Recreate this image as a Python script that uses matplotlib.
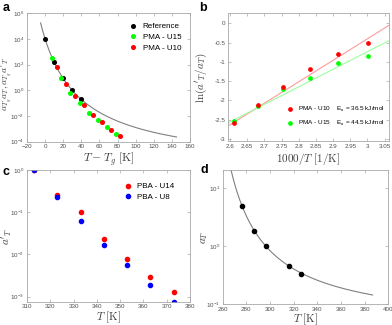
import numpy as np
import matplotlib
matplotlib.use("Agg")
import matplotlib.pyplot as plt

plt.rcParams['font.family'] = ['Liberation Sans', 'DejaVu Sans']
plt.rcParams['mathtext.fontset'] = 'cm'

# ---- panel a data (T - Tg, shift factors) ----
ref_dT = [0, 10, 20, 30, 40]
ref_a = [1.0e4, 1.7e2, 8.7, 1.07, 0.21]
u15_dT = [8, 18, 28, 38, 48, 58, 68, 78]
u15_a = [331, 9.8, 0.66, 0.11, 0.018, 0.0049, 0.0013, 0.0004]
u10_dT = [13, 23, 33, 43, 53, 63, 73, 83]
u10_a = [62, 3.1, 0.38, 0.068, 0.012, 0.0032, 0.00087, 0.00028]
# WLF fit shown as grey curve
wlf_a_logref, wlf_a_C1, wlf_a_C2 = 4.0, 10.0, 45.0
wlf_a_range = (-5, 145)

# ---- panel b data (Arrhenius) ----
b_T = [383, 373, 363, 353, 343, 333]
b_u10 = [-2.60, -2.12, -1.645, -1.18, -0.79, -0.51]
b_u15 = [-2.55, -2.14, -1.71, -1.41, -1.03, -0.85]
b_fit_x = [2.594, 3.063]
b_fit_u10 = [-2.67, -0.05]
b_fit_u15 = [-2.59, -0.45]

# ---- panel c data ----
c_T = [313, 323, 333, 343, 353, 363, 373]
c_u14 = [1.0, 0.26, 0.1, 0.023, 0.0077, 0.0030, 0.00132]
c_u8 = [1.0, 0.23, 0.061, 0.017, 0.0055, 0.00193, 0.00075]

# ---- panel d data ----
d_T = [276.5, 286.5, 296.5, 316.5, 326.5]
d_a = [4.89, 1.85, 1.0, 0.448, 0.334]
wlf_d_Tr, wlf_d_C1, wlf_d_C2 = 296.5, 1.414, 61.0
wlf_d_range = (266.9, 386.8)

spine_col = '#a8a8a8'
tick_col = '#505050'
lab_col = '#404040'


def style(ax):
    for s in ax.spines.values():
        s.set_color(spine_col)
        s.set_linewidth(0.6)
    ax.tick_params(which='both', direction='in', top=True, right=True,
                   labelsize=4.5, colors=spine_col, labelcolor=tick_col,
                   length=2, width=0.5, pad=2)
    ax.minorticks_off()


fig = plt.figure(figsize=(3.92, 3.25), dpi=100)

# a
ax = fig.add_axes([0.0689, 0.564, 0.416, 0.395])
x = np.linspace(*wlf_a_range, 200)
ax.plot(x, 10 ** (wlf_a_logref - wlf_a_C1 * x / (wlf_a_C2 + x)), color='#808080', lw=0.8)
ax.plot(ref_dT, ref_a, 'o', color='k', ms=2.6, label='Reference')
ax.plot(u15_dT, u15_a, 'o', color='#00ff00', ms=2.6, label='PMA - U15')
ax.plot(u10_dT, u10_a, 'o', color='#ff0000', ms=2.6, label='PMA - U10')
ax.set_yscale('log')
ax.set_xlim(-20, 160)
ax.set_ylim(1e-4, 1e6)
ax.set_xticks(np.arange(-20, 161, 20))
ax.set_yticks([1e-4, 1e-2, 1e0, 1e2, 1e4, 1e6])
style(ax)
ax.legend(loc='upper left', bbox_to_anchor=(0.626, 0.927), frameon=False, fontsize=5.8,
          borderpad=0, borderaxespad=0, handletextpad=0.7, labelspacing=0.4,
          handlelength=1.0)
ax.set_xlabel(r'$T - T_g\ [\mathrm{K}]$', fontsize=8.5, color=lab_col)
ax.set_ylabel(r"$a_{T_g}a_T, a_{T_g}a'_T$", fontsize=7, color=lab_col)
ax.xaxis.set_label_coords(0.5, -0.065)
ax.yaxis.set_label_coords(-0.08, 0.45)
fig.text(0.0153, 0.966, 'a', fontsize=9, fontweight='bold', ha='center', va='baseline')

# b
ax = fig.add_axes([0.5816, 0.566, 0.411, 0.393])
ax.plot(b_fit_x, b_fit_u10, color='#ff9a9a', lw=0.8)
ax.plot(b_fit_x, b_fit_u15, color='#9aff9a', lw=0.8)
bx = [1000.0 / t for t in b_T]
ax.plot(bx, b_u15, 'o', color='#00ff00', ms=2.4)
ax.plot(bx, b_u10, 'o', color='#ff0000', ms=2.4)
h1, = ax.plot([], [], 'o', color='#ff0000', ms=2.4,
              label='PMA - U10    E$_{\\mathsf{a}}$ = 36.5 kJ/mol')
h2, = ax.plot([], [], 'o', color='#00ff00', ms=2.4,
              label='PMA - U15    E$_{\\mathsf{a}}$ = 44.5 kJ/mol')
ax.set_xlim(b_fit_x[0], b_fit_x[1])
ax.set_ylim(-3.06, 0.26)
ax.set_xticks(np.arange(2.6, 3.051, 0.05))
ax.set_xticklabels(['2.6', '2.65', '2.7', '2.75', '2.8', '2.85', '2.9', '2.95', '3', '3.05'])
ax.set_yticks(np.arange(-3, 0.01, 0.5))
ax.set_yticklabels(['-3', '-2.5', '-2', '-1.5', '-1', '-0.5', '0'])
style(ax)
ax.legend(handles=[h1, h2], loc='center left', bbox_to_anchor=(0.362, 0.193), frameon=False,
          fontsize=4.6, borderpad=0, borderaxespad=0, handletextpad=0.5,
          labelspacing=0.75, handlelength=1.3)
ax.set_xlabel(r'$1000/T\ [1/\mathrm{K}]$', fontsize=8, color=lab_col)
ax.set_ylabel(r"$\ln(a'_T/a_T)$", fontsize=8, color=lab_col)
ax.xaxis.set_label_coords(0.5, -0.08)
ax.yaxis.set_label_coords(-0.12, 0.5)
fig.text(0.518, 0.966, 'b', fontsize=9, fontweight='bold', ha='center', va='baseline')

# c
ax = fig.add_axes([0.0689, 0.0717, 0.416, 0.405])
ax.plot(c_T, c_u14, 'o', color='#ff0000', ms=3, label='PBA - U14')
ax.plot(c_T, c_u8, 'o', color='#0000ff', ms=3, label='PBA - U8')
ax.set_yscale('log')
ax.set_xlim(310, 380)
ax.set_ylim(7.6e-4, 1.0)
ax.set_xticks(np.arange(310, 381, 10))
ax.set_yticks([1e-3, 1e-2, 1e-1, 1e0])
style(ax)
ax.legend(loc='upper left', bbox_to_anchor=(0.595, 0.904), frameon=False, fontsize=5.8,
          borderpad=0, borderaxespad=0, handletextpad=0.6, labelspacing=0.4,
          handlelength=1.0)
ax.set_xlabel(r'$T\ [\mathrm{K}]$', fontsize=8, color=lab_col)
ax.set_ylabel(r"$a'_T$", fontsize=8, color=lab_col)
ax.xaxis.set_label_coords(0.5, -0.056)
ax.yaxis.set_label_coords(-0.08, 0.5)
fig.text(0.0153, 0.4615, 'c', fontsize=9, fontweight='bold', ha='center', va='baseline')

# d
ax = fig.add_axes([0.568, 0.0646, 0.4224, 0.412])
t = np.linspace(*wlf_d_range, 200)
ax.plot(t, 10 ** (-wlf_d_C1 * (t - wlf_d_Tr) / (wlf_d_C2 + t - wlf_d_Tr)), color='#808080', lw=0.8)
ax.plot(d_T, d_a, 'o', color='k', ms=3)
ax.set_yscale('log')
ax.set_xlim(260, 400)
ax.set_ylim(0.1, 20.7)
ax.set_xticks(np.arange(260, 401, 20))
ax.set_yticks([1e-1, 1e0, 1e1])
style(ax)
ax.set_xlabel(r'$T\ [\mathrm{K}]$', fontsize=8, color=lab_col)
ax.set_ylabel(r'$a_T$', fontsize=8, color=lab_col)
ax.xaxis.set_label_coords(0.5, -0.053)
ax.yaxis.set_label_coords(-0.077, 0.5)
fig.text(0.52, 0.4686, 'd', fontsize=9, fontweight='bold', ha='center', va='baseline')

fig.savefig('out.png', dpi=100)
